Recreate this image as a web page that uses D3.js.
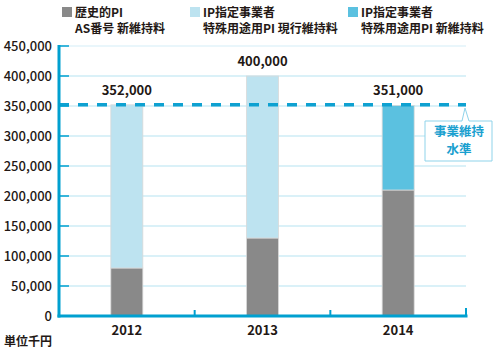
<!DOCTYPE html>
<html>
<head>
<meta charset="utf-8">
<script src="https://cdn.jsdelivr.net/npm/d3@7"></script>
<style>
  body { margin: 0; background: #fff; }
  svg text { font-family: "Noto Sans CJK JP", "Noto Sans", sans-serif; fill: #231815; }
</style>
</head>
<body>
<svg id="chart" width="500" height="354"></svg>
<script>

// data
const years = [ "2012", "2013", "2014" ];
const historicPI = [ 80000, 130000, 210000 ];
const ipCurrent = [ 272000, 270000, 0 ];
const ipNew = [ 0, 0, 141000 ];
const totals = [ 352000, 400000, 351000 ];
const yTicks = [ 0, 50000, 100000, 150000, 200000, 250000, 300000, 350000, 400000, 450000 ];
const keepLevel = 352000;
const seriesNames = [
  [ "歴史的PI", "AS番号 新維持料" ],
  [ "IP指定事業者", "特殊用途用PI 現行維持料" ],
  [ "IP指定事業者", "特殊用途用PI 新維持料" ]
];
const seriesColors = [ "#898989", "#bde3f0", "#5bc1e0" ];

const axisColor = "#00a0d0";
const gridColor = "#b5e3f1";

const svg = d3.select( "#chart" );

const x = d3.scaleBand()
  .domain( years )
  .range( [ 59, 466 ] );

const y = d3.scaleLinear()
  .domain( [ 0, 450000 ] )
  .range( [ 316, 46 ] );

const barWidth = 32;

// grid lines
svg.selectAll( "line.grid" )
  .data( yTicks.filter( d => d > 0 ) )
  .enter().append( "line" )
    .attr( "class", "grid" )
    .attr( "x1", 59 )
    .attr( "x2", 466 )
    .attr( "y1", d => y( d ) )
    .attr( "y2", d => y( d ) )
    .attr( "stroke", d => d === 450000 ? "#d3eef7" : gridColor )
    .attr( "stroke-width", 1.2 );

// stacked bars
const stackData = years.map( ( yr, i ) => ( { year: yr, a: historicPI[ i ], b: ipCurrent[ i ], c: ipNew[ i ] } ) );
const stack = d3.stack().keys( [ "a", "b", "c" ] )( stackData );

stack.forEach( ( layer, li ) => {
  svg.selectAll( "rect.layer" + li )
    .data( layer.filter( d => d[ 1 ] > d[ 0 ] ) )
    .enter().append( "rect" )
      .attr( "class", "layer" + li )
      .attr( "x", d => x( d.data.year ) + x.bandwidth() / 2 - barWidth / 2 )
      .attr( "width", barWidth )
      .attr( "y", d => y( d[ 1 ] ) )
      .attr( "height", d => y( d[ 0 ] ) - y( d[ 1 ] ) )
      .attr( "fill", seriesColors[ li ] )
      .attr( "stroke", "#d9d9d9" )
      .attr( "stroke-width", 0.8 );
} );

// total labels
svg.selectAll( "text.total" )
  .data( totals )
  .enter().append( "text" )
    .attr( "class", "total" )
    .attr( "x", ( d, i ) => x( years[ i ] ) + x.bandwidth() / 2 )
    .attr( "y", d => y( d ) - 10 )
    .attr( "text-anchor", "middle" )
    .style( "font-size", "13px" )
    .style( "font-weight", "bold" )
    .text( d => d3.format( "," )( d ) );

// dashed level line
svg.append( "line" )
  .attr( "x1", 59 )
  .attr( "x2", 466 )
  .attr( "y1", y( keepLevel ) )
  .attr( "y2", y( keepLevel ) )
  .attr( "stroke", "#0ea1d1" )
  .attr( "stroke-width", 3.5 )
  .attr( "stroke-dasharray", "10,9" );

// y axis
svg.append( "line" )
  .attr( "x1", 59 ).attr( "x2", 59 )
  .attr( "y1", y( 450000 ) - 1 ).attr( "y2", 317.5 )
  .attr( "stroke", axisColor )
  .attr( "stroke-width", 3 );

svg.selectAll( "line.ytick" )
  .data( yTicks.filter( d => d > 0 ) )
  .enter().append( "line" )
    .attr( "class", "ytick" )
    .attr( "x1", 59 )
    .attr( "x2", 69 )
    .attr( "y1", d => y( d ) )
    .attr( "y2", d => y( d ) )
    .attr( "stroke", axisColor )
    .attr( "stroke-width", 1.5 );

svg.selectAll( "text.ylab" )
  .data( yTicks )
  .enter().append( "text" )
    .attr( "class", "ylab" )
    .attr( "x", 52 )
    .attr( "y", d => y( d ) + 5 )
    .attr( "text-anchor", "end" )
    .style( "font-size", "13px" )
    .style( "font-weight", "500" )
    .text( d => d3.format( "," )( d ) );

// x axis
svg.append( "line" )
  .attr( "x1", 57.5 ).attr( "x2", 467.5 )
  .attr( "y1", 316 ).attr( "y2", 316 )
  .attr( "stroke", axisColor )
  .attr( "stroke-width", 3 );

svg.selectAll( "line.xtick" )
  .data( years.slice( 1 ).concat( [ "end" ] ) )
  .enter().append( "line" )
    .attr( "class", "xtick" )
    .attr( "x1", d => d === "end" ? 466 : x( d ) )
    .attr( "x2", d => d === "end" ? 466 : x( d ) )
    .attr( "y1", 316 )
    .attr( "y2", d => d === "end" ? 308 : 310 )
    .attr( "stroke", axisColor )
    .attr( "stroke-width", 2 );

svg.selectAll( "text.xlab" )
  .data( years )
  .enter().append( "text" )
    .attr( "class", "xlab" )
    .attr( "x", d => x( d ) + x.bandwidth() / 2 )
    .attr( "y", 335 )
    .attr( "text-anchor", "middle" )
    .style( "font-size", "13px" )
    .style( "font-weight", "bold" )
    .text( d => d );

svg.append( "text" )
  .attr( "x", 4 )
  .attr( "y", 346 )
  .style( "font-size", "12px" )
  .style( "font-weight", "bold" )
  .text( "単位千円" );

// callout
const callout = svg.append( "g" );
callout.append( "path" )
  .attr( "d", "M425,121 H462 L465,108 L469,121 H492 V161 H425 Z" )
  .attr( "fill", "#fff" )
  .attr( "stroke", "#8fd3ea" )
  .attr( "stroke-width", 1 )
  .attr( "stroke-linejoin", "round" );

callout.selectAll( "text" )
  .data( [ "事業維持", "水準" ] )
  .enter().append( "text" )
    .attr( "x", 459 )
    .attr( "y", ( d, i ) => 135.5 + i * 18.5 )
    .attr( "text-anchor", "middle" )
    .style( "font-size", "12.5px" )
    .style( "font-weight", "bold" )
    .style( "fill", "#1aa0cf" )
    .text( d => d );

// legend
const legendX = [ 62, 190, 348 ];
const legend = svg.selectAll( "g.legend" )
  .data( seriesNames )
  .enter().append( "g" )
    .attr( "class", "legend" )
    .attr( "transform", ( d, i ) => "translate(" + legendX[ i ] + ",0)" );

legend.append( "rect" )
  .attr( "x", 0 )
  .attr( "y", 7 )
  .attr( "width", 10 )
  .attr( "height", 10 )
  .attr( "fill", ( d, i ) => seriesColors[ i ] );

legend.append( "text" )
  .attr( "x", 13 )
  .attr( "y", 17 )
  .style( "font-size", "12px" )
  .style( "font-weight", "bold" )
  .text( d => d[ 0 ] );

legend.append( "text" )
  .attr( "x", 13 )
  .attr( "y", 33 )
  .style( "font-size", "12px" )
  .style( "font-weight", "bold" )
  .text( d => d[ 1 ] );

</script>
</body>
</html>
